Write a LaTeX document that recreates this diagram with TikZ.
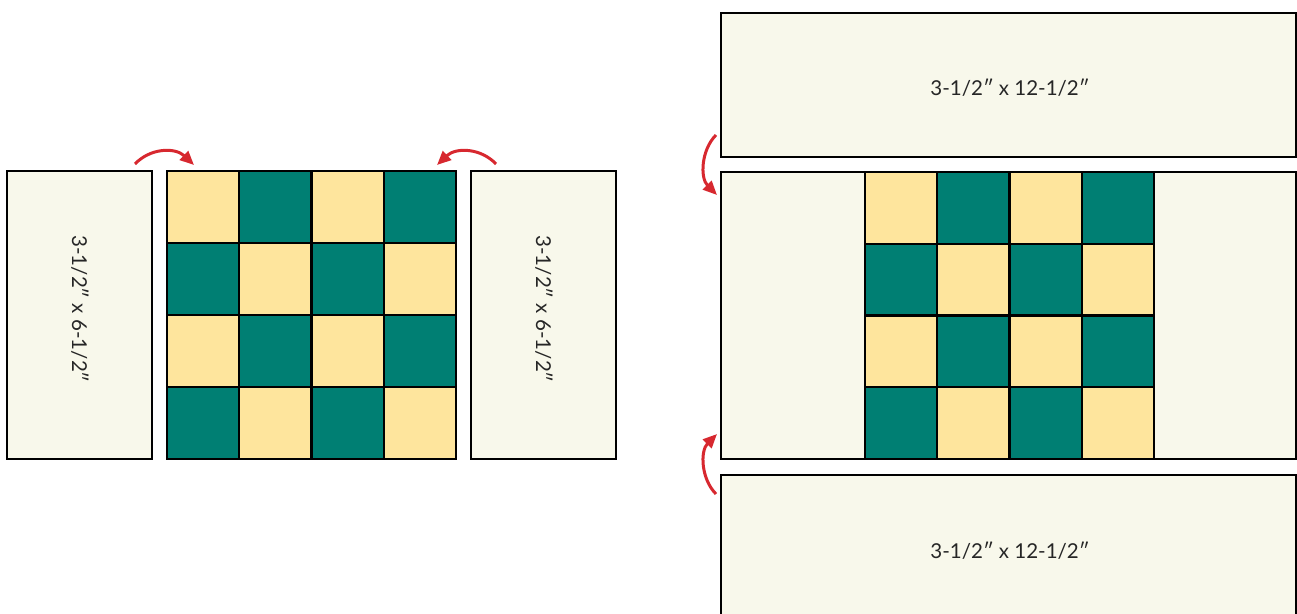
\documentclass[tikz,border=0pt]{standalone}
\usepackage{fontspec}
\setmainfont{Lato}
\usetikzlibrary{arrows.meta}
\definecolor{teal}{HTML}{007F73}
\definecolor{sand}{HTML}{FEE59D}
\definecolor{strip}{HTML}{F8F8EB}
\definecolor{arrowred}{HTML}{D7282F}
\tikzset{
  stripbox/.style={draw=black, line width=2.8pt, fill=strip},
  ysq/.style={fill=sand, draw=black, line width=2.4pt},
  gsq/.style={fill=teal, draw=black, line width=2.4pt},
  lbl/.style={font=\fontsize{20.5}{24}\selectfont, text=black!85},
  redarrow/.style={draw=arrowred, line width=3pt, -{Triangle[length=14pt,width=12pt]}},
}
\begin{document}
\begin{tikzpicture}[x=1pt,y=-1pt]
\useasboundingbox (0,0) rectangle (1297,613);
% ---------- left panel ----------
\draw[stripbox] (7,171) rectangle (152,459);
\node[lbl, rotate=-90] (lefttxt) at (80,309) {3-1/2″ x 6-1/2″};
\draw[stripbox] (471,171) rectangle (616,459);
\node[lbl, rotate=-90] (righttxt) at (544,309) {3-1/2″ x 6-1/2″};
% checkerboard left
\foreach \r in {0,1,2,3} {
  \foreach \c in {0,1,2,3} {
    \pgfmathtruncatemacro{\parity}{mod(\r+\c,2)}
    \ifnum\parity=0
      \draw[ysq] (167+\c*72.25,171+\r*72) rectangle ++(72.25,72);
    \else
      \draw[gsq] (167+\c*72.25,171+\r*72) rectangle ++(72.25,72);
    \fi
  }
}
% ---------- right panel ----------
\draw[stripbox] (721,13) rectangle (1296.5,157);
\node[lbl] (toptxt) at (1010,88) {3-1/2″ x 12-1/2″};
\draw[stripbox] (721,172) rectangle (1296.5,459);
\foreach \r in {0,1,2,3} {
  \foreach \c in {0,1,2,3} {
    \pgfmathtruncatemacro{\parity}{mod(\r+\c,2)}
    \ifnum\parity=0
      \draw[ysq] (865+\c*72.25,172+\r*71.75) rectangle ++(72.25,71.75);
    \else
      \draw[gsq] (865+\c*72.25,172+\r*71.75) rectangle ++(72.25,71.75);
    \fi
  }
}
\draw[stripbox] (721,475) rectangle (1296.5,620);
\node[lbl] (bottxt) at (1010,551) {3-1/2″ x 12-1/2″};
% ---------- arrows ----------
\coordinate (a1s) at (135,164);
\coordinate (a1e) at (194,165);
\draw[redarrow] (a1s) .. controls (150,148) and (175,147) .. (a1e);
\coordinate (a2s) at (496,164);
\coordinate (a2e) at (437,165);
\draw[redarrow] (a2s) .. controls (481,148) and (456,147) .. (a2e);
\coordinate (a3s) at (716,135);
\coordinate (a3e) at (717,195);
\draw[redarrow] (a3s) .. controls (701,150) and (700,178) .. (a3e);
\coordinate (a4s) at (716,494);
\coordinate (a4e) at (717,434);
\draw[redarrow] (a4s) .. controls (701,479) and (700,451) .. (a4e);
\end{tikzpicture}
\end{document}
